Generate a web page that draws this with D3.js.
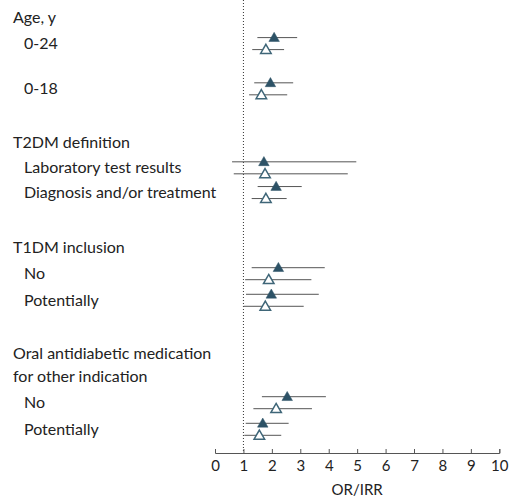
<!DOCTYPE html>
<html><head><meta charset="utf-8">
<script src="https://cdn.jsdelivr.net/npm/d3@7"></script>
<style>
body{margin:0;background:#fff;}
text{font-family:Lato,"Open Sans",sans-serif;fill:#222;}
</style></head>
<body><svg id="c" width="513" height="502"></svg>
<script>
// Row labels (text, indent level, row slot in row units)
const rowText  = ["Age, y","0-24","0-18","T2DM definition","Laboratory test results","Diagnosis and/or treatment","T1DM inclusion","No","Potentially","Oral antidiabetic medication","for other indication","No","Potentially"];
const rowIndent = [0,1,1,0,1,1,0,1,1,0,0,1,1];
const rowSlot   = [0,1,2.7,4.7,5.67,6.6,8.65,9.65,10.65,12.65,13.5,14.5,15.5];

// Estimates: row index into rowText for each subgroup
const estRow  = [1,2,4,5,7,8,11,12];
const orEst   = [2.08,1.95,1.72,2.15,2.23,1.98,2.54,1.68];
const orLow   = [1.49,1.38,0.60,1.50,1.29,1.09,1.65,1.08];
const orHigh  = [2.89,2.75,4.97,3.05,3.86,3.65,3.90,2.59];
const irrEst  = [1.79,1.63,1.76,1.79,1.89,1.77,2.15,1.56];
const irrLow  = [1.31,1.20,0.66,1.29,1.06,1.01,1.35,1.03];
const irrHigh = [2.43,2.54,4.67,2.52,3.39,3.12,3.41,2.33];
const xTicks  = [0,1,2,3,4,5,6,7,8,9,10];
const xTitle  = "OR/IRR";
const refValue = 1;

const svg = d3.select("#c");
const x = d3.scaleLinear().domain([0,10]).range([215,499.3]);
const y = d3.scaleLinear().domain([0,15.5]).range([17,429.3]);
const axisY = 453;
const fs = 16;

// reference line
svg.append("line")
  .attr("x1",x(refValue)).attr("x2",x(refValue))
  .attr("y1",0).attr("y2",axisY)
  .attr("stroke","#333").attr("stroke-width",1).attr("stroke-dasharray","1,2");

// labels
svg.selectAll("text.row").data(rowText).join("text")
  .attr("class","row")
  .attr("x",(d,i)=>rowIndent[i]?24:13)
  .attr("y",(d,i)=>y(rowSlot[i]))
  .attr("dy","0.35em")
  .attr("font-size",fs)
  .text(d=>d);

const series = [
  {est:orEst,lo:orLow,hi:orHigh,off:-6,fill:"#2d5266",stroke:"#2d5266"},
  {est:irrEst,lo:irrLow,hi:irrHigh,off:6,fill:"#fff",stroke:"#3f6678"}
];
const tri = d3.symbol().type(d3.symbolTriangle).size(48);
series.forEach(s=>{
  const g = svg.append("g");
  const data = estRow.map((r,i)=>({r, e:s.est[i], lo:s.lo[i], hi:s.hi[i]}));
  g.selectAll("line").data(data).join("line")
    .attr("x1",d=>x(d.lo)).attr("x2",d=>x(d.hi))
    .attr("y1",d=>y(rowSlot[d.r])+s.off).attr("y2",d=>y(rowSlot[d.r])+s.off)
    .attr("stroke","#555").attr("stroke-width",1);
  g.selectAll("path").data(data).join("path")
    .attr("d",tri)
    .attr("transform",d=>`translate(${x(d.e)},${y(rowSlot[d.r])+s.off+0.8})`)
    .attr("fill",s.fill).attr("stroke",s.stroke).attr("stroke-width",s.fill==="#fff"?1.5:0.5);
});

// axis
const ax = svg.append("g").attr("transform",`translate(0,${axisY})`)
  .call(d3.axisBottom(x).tickValues(xTicks).tickFormat(d3.format("d")).tickSizeInner(-4).tickSizeOuter(-4).tickPadding(7));
ax.select(".domain").attr("stroke","#555");
ax.selectAll(".tick line").attr("stroke","#555");
ax.selectAll(".tick text").attr("font-size",15).attr("font-family","Lato,'Open Sans',sans-serif").attr("fill","#222").attr("dy","0.71em").attr("y",7);
svg.append("text").attr("x",(x(0)+x(10))/2).attr("y",490).attr("dy","0.35em")
  .attr("text-anchor","middle").attr("font-size",15).text(xTitle);
</script></body></html>
